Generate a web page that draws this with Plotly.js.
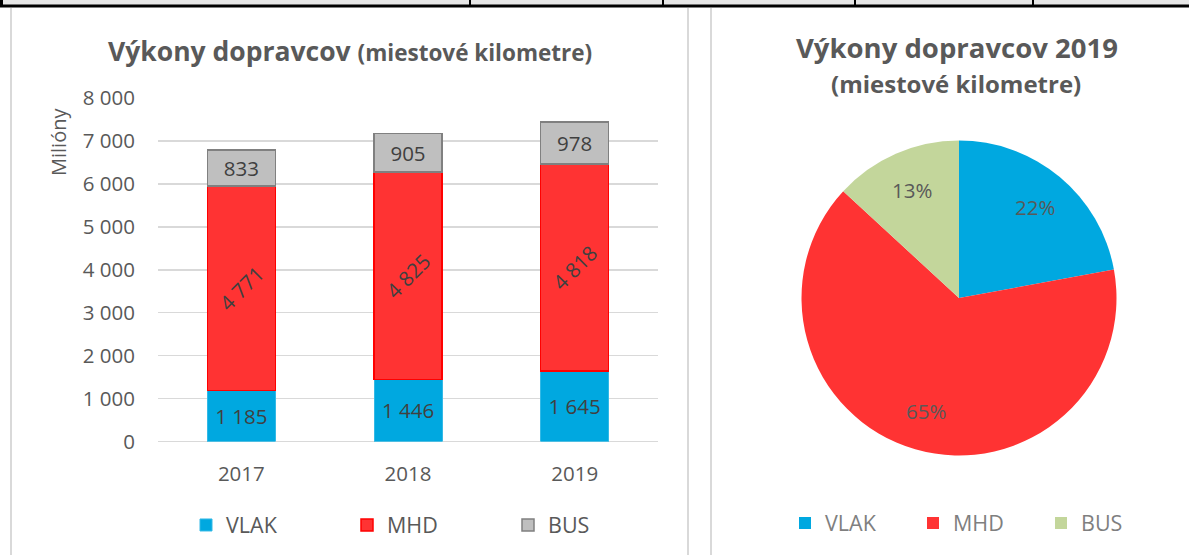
<!DOCTYPE html>
<html>
<head>
<meta charset="utf-8">
<script src="https://cdn.plot.ly/plotly-3.0.1.min.js"></script>
<style>html,body{margin:0;padding:0;background:#fff;overflow:hidden;}#chart{width:1189px;height:555px;}</style>
</head>
<body>
<div id="chart"></div>
<script>
// ---- data ----
const years = ['2017', '2018', '2019'];
const vlak = [1185, 1446, 1645];
const mhd = [4771, 4825, 4818];
const bus = [833, 905, 978];
const seriesNames = ['VLAK', 'MHD', 'BUS'];
const yTicks = [0, 1000, 2000, 3000, 4000, 5000, 6000, 7000, 8000];
const pieYearIndex = 2; // 2019

// ---- layout helpers ----
const W = 1189, H = 555;
const px = x => x / W;
const py = y => 1 - y / H;
const FONT = '"Open Sans", "Noto Sans", sans-serif';
const TXT = '#595959';

const cBlue = '#00a8e0', cRed = '#ff3333', cGrey = '#bfbfbf', cGreen = '#c3d69b';

const pieValues = [vlak[pieYearIndex], mhd[pieYearIndex], bus[pieYearIndex]];
const pieCx = 959, pieCy = 298, pieR = 157.5;

const traces = [
  {
    type: 'bar', name: seriesNames[0], x: years, y: vlak,
    marker: {color: cBlue, line: {color: '#33b9e6', width: 1}},
    texttemplate: '%{y:,.0f}', textposition: 'inside', insidetextanchor: 'middle',
    textangle: 0, insidetextfont: {family: FONT, size: 20.5, color: '#404040'},
    legend: 'legend', hoverinfo: 'skip'
  },
  {
    type: 'bar', name: seriesNames[1], x: years, y: mhd,
    marker: {color: cRed, line: {color: '#ff0000', width: 1.5}},
    texttemplate: '%{y:,.0f}', textposition: 'inside', insidetextanchor: 'middle',
    textangle: -45, insidetextfont: {family: FONT, size: 20.5, color: '#404040'},
    legend: 'legend', hoverinfo: 'skip'
  },
  {
    type: 'bar', name: seriesNames[2], x: years, y: bus,
    marker: {color: cGrey, line: {color: '#808080', width: 1.5}},
    texttemplate: '%{y:,.0f}', textposition: 'inside', insidetextanchor: 'middle',
    textangle: 0, insidetextfont: {family: FONT, size: 20.5, color: '#404040'},
    legend: 'legend', hoverinfo: 'skip'
  },
  {
    type: 'pie', labels: seriesNames, values: pieValues,
    marker: {colors: [cBlue, cRed, cGreen], line: {width: 0}},
    sort: false, direction: 'clockwise', rotation: 0,
    textinfo: 'none', textposition: 'none',
    domain: {x: [px(pieCx - pieR), px(pieCx + pieR)], y: [py(pieCy + pieR), py(pieCy - pieR)]},
    legend: 'legend2', hoverinfo: 'skip'
  }
];

// percent labels for pie, placed at slice mid-angles derived from the values
const pieTotal = pieValues.reduce((a, b) => a + b, 0);
const pieLabels = [];
let cum = 0;
pieValues.forEach(v => {
  const mid = (cum + v / 2) / pieTotal * 2 * Math.PI;
  cum += v;
  const rr = 0.75 * pieR;
  pieLabels.push({
    xref: 'paper', yref: 'paper', showarrow: false, xanchor: 'center', yanchor: 'middle',
    x: px(pieCx + rr * Math.sin(mid)), y: py(pieCy - rr * Math.cos(mid)),
    text: Math.round(v / pieTotal * 100) + '%',
    font: {family: FONT, size: 20.5, color: TXT}
  });
});

const shapes = [];
// top table band
shapes.push({type: 'rect', xref: 'paper', yref: 'paper', x0: 0, x1: 1, y0: py(0), y1: py(5), fillcolor: '#e6e6e6', line: {width: 0}, layer: 'below'});
shapes.push({type: 'rect', xref: 'paper', yref: 'paper', x0: 0, x1: 1, y0: py(4.5), y1: py(7.5), fillcolor: '#000', line: {width: 0}, layer: 'below'});
[[0, 3], [469, 471], [662, 664], [854, 856], [1032, 1034]].forEach(([a, b]) => {
  shapes.push({type: 'rect', xref: 'paper', yref: 'paper', x0: px(a), x1: px(b), y0: py(0), y1: py(5), fillcolor: '#000', line: {width: 0}, layer: 'below'});
});
// panel borders
[11, 688, 711].forEach(x => {
  shapes.push({type: 'line', xref: 'paper', yref: 'paper', x0: px(x), x1: px(x), y0: py(8), y1: 0, line: {color: '#d9d9d9', width: 2}, layer: 'below'});
});

const layout = {
  width: W, height: H, autosize: false,
  margin: {l: 0, r: 0, t: 0, b: 0, pad: 0, autoexpand: false},
  paper_bgcolor: '#fff', plot_bgcolor: 'rgba(0,0,0,0)',
  separators: ', ',
  font: {family: FONT, color: TXT, size: 20},
  barmode: 'stack', bargap: 0.592,
  showlegend: true,
  xaxis: {
    domain: [px(158), px(658)], type: 'category',
    showgrid: false, zeroline: false, showline: false, ticks: '',
    tickfont: {family: FONT, size: 20.5, color: TXT}, ticklabelstandoff: 18, fixedrange: true,
    automargin: false
  },
  yaxis: {
    domain: [py(441.5), py(98)], range: [0, 8000],
    tickvals: yTicks, tickformat: ',.0f',
    showgrid: true, gridcolor: '#d9d9d9', gridwidth: 1.5,
    zeroline: true, zerolinecolor: '#d9d9d9', zerolinewidth: 1.5,
    showline: false, ticks: '',
    tickfont: {family: FONT, size: 20.5, color: TXT}, ticklabelstandoff: 22, fixedrange: true,
    automargin: false
  },
  legend: {
    orientation: 'h', x: px(186), xanchor: 'left', y: py(525), yanchor: 'middle',
    font: {family: FONT, size: 21.5, color: TXT}, entrywidth: 116, entrywidthmode: 'pixels',
    itemclick: false, itemdoubleclick: false, bgcolor: 'rgba(0,0,0,0)', traceorder: 'normal'
  },
  legend2: {
    orientation: 'h', x: px(785), xanchor: 'left', y: py(523), yanchor: 'middle',
    font: {family: FONT, size: 21.5, color: '#7f7f7f'}, entrywidth: 83, entrywidthmode: 'pixels',
    itemclick: false, itemdoubleclick: false, bgcolor: 'rgba(0,0,0,0)', traceorder: 'normal'
  },
  shapes: shapes,
  annotations: [
    {xref: 'paper', yref: 'paper', x: px(350), y: py(51), xanchor: 'center', yanchor: 'middle', showarrow: false,
     text: '<b>Výkony dopravcov</b> <b><span style="font-size:22.5px">(miestové kilometre)</span></b>',
     font: {family: FONT, size: 26.5, color: TXT}},
    {xref: 'paper', yref: 'paper', x: px(957), y: py(47), xanchor: 'center', yanchor: 'middle', showarrow: false,
     text: '<b>Výkony dopravcov 2019</b>', font: {family: FONT, size: 27.5, color: TXT}},
    {xref: 'paper', yref: 'paper', x: px(956), y: py(83), xanchor: 'center', yanchor: 'middle', showarrow: false,
     text: '<b>(miestové kilometre)</b>', font: {family: FONT, size: 24, color: TXT}},
    {xref: 'paper', yref: 'paper', x: px(58), y: py(142), xanchor: 'center', yanchor: 'middle', showarrow: false,
     textangle: -90, text: 'Milióny', font: {family: FONT, size: 20, color: TXT}}
  ].concat(pieLabels)
};

Plotly.newPlot('chart', traces, layout, {displayModeBar: false, staticPlot: true});
</script>
</body>
</html>
